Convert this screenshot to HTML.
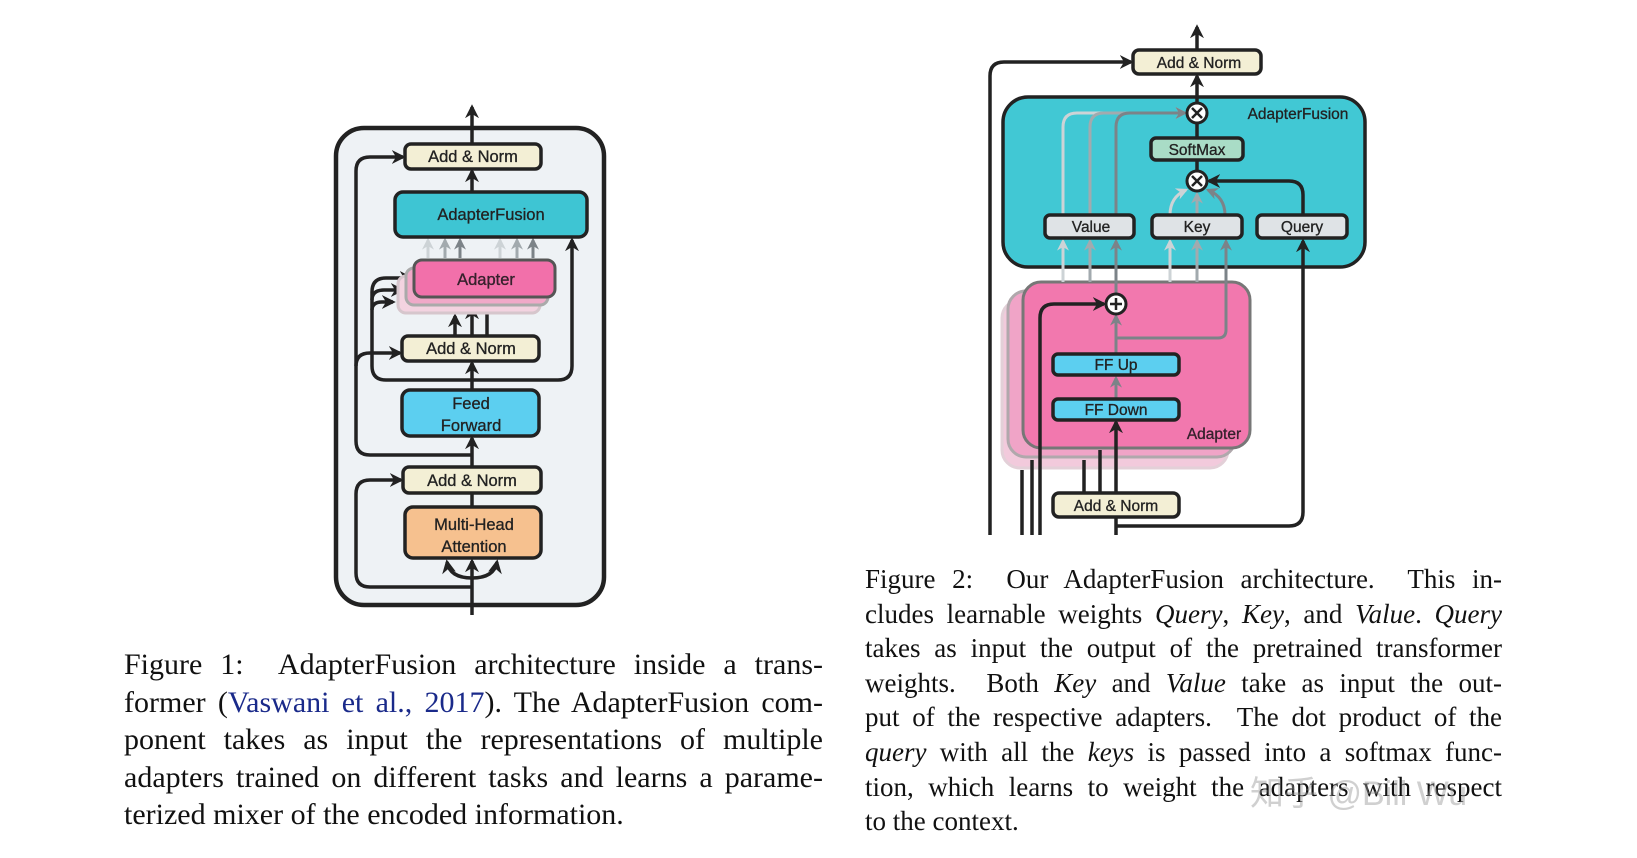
<!DOCTYPE html>
<html><head><meta charset="utf-8"><style>
html,body{margin:0;padding:0;background:#fff;}
body{width:1637px;height:858px;position:relative;overflow:hidden;}
.cap{position:absolute;font-family:"Liberation Serif",serif;color:#111;text-align:justify;text-align-last:justify;}
.cap div{white-space:nowrap;}
.f1{left:124px;top:646px;width:699px;font-size:30px;line-height:37.5px;}
.f2{left:865px;top:562px;width:637px;font-size:27px;line-height:34.6px;}
.cap .last{text-align-last:left;}
.lnk{color:#1a2a8a;}
svg text{font-family:"Liberation Sans",sans-serif;}
.wm{position:absolute;left:1250px;top:766px;font-family:"Liberation Sans","Noto Sans CJK SC",sans-serif;font-size:34px;color:rgba(150,150,150,0.45);}
</style></head><body>
<svg width="1637" height="858" style="position:absolute;left:0;top:0">
<defs>
<marker id="a" viewBox="0 0 10 10" refX="8" refY="5" markerWidth="4" markerHeight="4" orient="auto-start-reverse"><path d="M0,0 L10,5 L0,10 L3,5 z" fill="#222"/></marker>
<marker id="g1" viewBox="0 0 10 10" refX="8" refY="5" markerWidth="4" markerHeight="4" orient="auto"><path d="M0,0 L10,5 L0,10 L3,5 z" fill="#7c8388"/></marker>
<marker id="g2" viewBox="0 0 10 10" refX="8" refY="5" markerWidth="4" markerHeight="4" orient="auto"><path d="M0,0 L10,5 L0,10 L3,5 z" fill="#a2aaae"/></marker>
<marker id="g3" viewBox="0 0 10 10" refX="8" refY="5" markerWidth="4" markerHeight="4" orient="auto"><path d="M0,0 L10,5 L0,10 L3,5 z" fill="#cdd3d6"/></marker>
</defs>
<g fill="none" stroke="#222" stroke-width="3.5">
<rect x="336" y="128" width="268" height="477" rx="28" fill="#eef2f5" stroke-width="4.5"/>
<path d="M472 615 L472 561" marker-end="url(#a)"/>
<path d="M472 578 Q450 578 447 562" marker-end="url(#a)"/>
<path d="M472 578 Q494 578 497 562" marker-end="url(#a)"/>
<path d="M472 587 L370 587 Q356 587 356 573 L356 494 Q356 480 370 480 L401 480" marker-end="url(#a)"/>
<path d="M472 507 L472 493"/>
<path d="M472 466 L472 438" marker-end="url(#a)"/>
<path d="M472 455 L370 455 Q356 455 356 441 L356 171 Q356 157 370 157 L403 157" marker-end="url(#a)"/>
<path d="M356 366 Q356 353 370 353 L400 353" marker-end="url(#a)"/>
<path d="M472 390 L472 363" marker-end="url(#a)"/>
<path d="M472 380 L386 380 Q372 380 372 366 L372 292 Q372 278 386 278 L411 278" marker-end="url(#a)"/>
<path d="M372 300 Q372 290 384 290 L402 290" marker-end="url(#a)"/>
<path d="M372 310 Q372 302 382 302 L393 302" marker-end="url(#a)"/>
<path d="M472 380 L558 380 Q572 380 572 366 L572 240" marker-end="url(#a)"/>
<path d="M455 336 L455 316" marker-end="url(#a)"/>
<path d="M472 336 L472 308" marker-end="url(#a)"/>
<path d="M487 336 L487 300" marker-end="url(#a)"/>
<rect x="398" y="276" width="142" height="37" rx="8" fill="#f3d3e0" stroke="#d6c6cc" stroke-width="3"/>
<rect x="406" y="268" width="142" height="37" rx="8" fill="#f0a9c8" stroke="#aaa" stroke-width="3"/>
<rect x="414" y="260" width="141" height="37" rx="8" fill="#f270aa" stroke="#555" stroke-width="3"/>
<g stroke-width="3">
<path d="M428 258 L428 240" stroke="#cdd3d6" marker-end="url(#g3)"/>
<path d="M445 258 L445 240" stroke="#a2aaae" marker-end="url(#g2)"/>
<path d="M460 258 L460 240" stroke="#7c8388" marker-end="url(#g1)"/>
<path d="M500 258 L500 240" stroke="#cdd3d6" marker-end="url(#g3)"/>
<path d="M517 258 L517 240" stroke="#a2aaae" marker-end="url(#g2)"/>
<path d="M533 258 L533 240" stroke="#7c8388" marker-end="url(#g1)"/>
</g>
<path d="M472 192 L472 171" marker-end="url(#a)"/>
<path d="M472 144 L472 107" marker-end="url(#a)"/>
<rect x="405" y="144" width="136" height="25" rx="6" fill="#f3efd5"/>
<rect x="395" y="192" width="192" height="45" rx="8" fill="#3ec5d3"/>
<rect x="402" y="336" width="137" height="25" rx="6" fill="#f3efd5"/>
<rect x="402" y="390" width="137" height="46" rx="8" fill="#5ccff0"/>
<rect x="403" y="467" width="138" height="26" rx="6" fill="#f3efd5"/>
<rect x="405" y="507" width="136" height="51" rx="8" fill="#f6c18f"/>

<rect x="1003" y="97" width="362" height="170" rx="25" fill="#41c8d4"/>
<path d="M1197 50 L1197 27" marker-end="url(#a)"/>
<path d="M1197 103 L1197 76" marker-end="url(#a)"/>
<path d="M1197 123 L1197 138 M1197 160 L1197 171"/>
<path d="M990 535 L990 76 Q990 62 1004 62 L1131 62" marker-end="url(#a)"/>
<path d="M1303 215 L1303 195 Q1303 181 1289 181 L1209 181" marker-end="url(#a)"/>
<g stroke-width="3">
<path d="M1063 215 L1063 127 Q1063 113 1077 113 L1185 113" stroke="#cdd3d6" marker-end="url(#g3)"/>
<path d="M1090 215 L1090 127 Q1090 113 1104 113 L1185 113" stroke="#a2aaae" marker-end="url(#g2)"/>
<path d="M1116 215 L1116 127 Q1116 113 1130 113 L1185 113" stroke="#7c8388" marker-end="url(#g1)"/>
<path d="M1170 215 Q1170 197 1186 190" stroke="#cdd3d6" marker-end="url(#g3)"/>
<path d="M1197 215 L1197 194" stroke="#a2aaae" marker-end="url(#g2)"/>
<path d="M1225 215 Q1225 197 1208 190" stroke="#7c8388" marker-end="url(#g1)"/>
</g>
<rect x="1002" y="300" width="226" height="168" rx="18" fill="#f2cadc" stroke="#e3d0d8" stroke-width="3"/>
<rect x="1008" y="291" width="227" height="166" rx="18" fill="#f0a4c7" stroke="#b0a8ac" stroke-width="3"/>
<rect x="1023" y="282" width="227" height="166" rx="18" fill="#f278ae" stroke="#777" stroke-width="3"/>
<g stroke-width="3">
<path d="M1063 282 L1063 241" stroke="#cdd3d6" marker-end="url(#g3)"/>
<path d="M1090 282 L1090 241" stroke="#a2aaae" marker-end="url(#g2)"/>
<path d="M1116 294 L1116 241" stroke="#7c8388" marker-end="url(#g1)"/>
<path d="M1170 282 L1170 241" stroke="#cdd3d6" marker-end="url(#g3)"/>
<path d="M1197 282 L1197 241" stroke="#a2aaae" marker-end="url(#g2)"/>
<path d="M1116 338 L1218 338 Q1226 338 1226 330 L1226 241" stroke="#7c8388" marker-end="url(#g1)"/>
<path d="M1116 354 L1116 316" stroke="#7c8388" marker-end="url(#g1)"/>
<path d="M1116 399 L1116 378" stroke="#7c8388" marker-end="url(#g1)"/>
</g>
<path d="M1116 492 L1116 422" marker-end="url(#a)"/>
<path d="M1084 495 L1084 460 M1100 495 L1100 450"/>
<path d="M1022 535 L1022 470 M1032 535 L1032 460"/>
<path d="M1040 535 L1040 318 Q1040 304 1054 304 L1104 304" marker-end="url(#a)"/>
<path d="M1116 517 L1116 535"/>
<path d="M1116 526 L1289 526 Q1303 526 1303 512 L1303 241" marker-end="url(#a)"/>
<rect x="1133" y="50" width="128" height="24" rx="6" fill="#f3efd5"/>
<rect x="1151" y="138" width="92" height="22" rx="5" fill="#a9dcc6"/>
<rect x="1045" y="215" width="89" height="23" rx="5" fill="#dfe3e6"/>
<rect x="1152" y="215" width="90" height="23" rx="5" fill="#dfe3e6"/>
<rect x="1257" y="215" width="90" height="23" rx="5" fill="#dfe3e6"/>
<rect x="1053" y="354" width="126" height="21" rx="5" fill="#5ccff0"/>
<rect x="1053" y="399" width="126" height="21" rx="5" fill="#5ccff0"/>
<rect x="1053" y="493" width="126" height="24" rx="6" fill="#f3efd5"/>
<circle cx="1197" cy="113" r="10" fill="#fff" stroke-width="3"/>
<circle cx="1197" cy="181" r="10" fill="#fff" stroke-width="3"/>
<circle cx="1116" cy="304" r="10" fill="#fff" stroke-width="3"/>
<path d="M1192 108 L1202 118 M1202 108 L1192 118 M1192 176 L1202 186 M1202 176 L1192 186 M1110 304 L1122 304 M1116 298 L1116 310" stroke-width="2.5"/>
</g>
<g fill="#222" font-size="16.5" text-anchor="middle" stroke="#222" stroke-width="0.3">
<text x="473" y="162">Add &amp; Norm</text>
<text x="491" y="220">AdapterFusion</text>
<text x="486" y="285" fill="#3a1f2e">Adapter</text>
<text x="471" y="354">Add &amp; Norm</text>
<text x="471" y="409">Feed</text>
<text x="471" y="431">Forward</text>
<text x="472" y="486">Add &amp; Norm</text>
<text x="474" y="530">Multi-Head</text>
<text x="474" y="552">Attention</text>
<g font-size="15.5">
<text x="1199" y="68">Add &amp; Norm</text>
<text x="1298" y="119">AdapterFusion</text>
<text x="1197" y="155">SoftMax</text>
<text x="1091" y="232">Value</text>
<text x="1197" y="232">Key</text>
<text x="1302" y="232">Query</text>
<text x="1116" y="370">FF Up</text>
<text x="1116" y="415">FF Down</text>
<text x="1214" y="439" fill="#3a1f2e">Adapter</text>
<text x="1116" y="511">Add &amp; Norm</text>
</g>
</g>
</svg>
<div class="cap f1">
<div>Figure 1:&nbsp; AdapterFusion architecture inside a trans-</div>
<div>former (<span class="lnk">Vaswani et al., 2017</span>). The AdapterFusion com-</div>
<div>ponent takes as input the representations of multiple</div>
<div>adapters trained on different tasks and learns a parame-</div>
<div class="last">terized mixer of the encoded information.</div>
</div>
<div class="cap f2">
<div>Figure 2:&nbsp; Our AdapterFusion architecture.&nbsp; This in-</div>
<div>cludes learnable weights <i>Query</i>, <i>Key</i>, and <i>Value</i>. <i>Query</i></div>
<div>takes as input the output of the pretrained transformer</div>
<div>weights.&nbsp; Both <i>Key</i> and <i>Value</i> take as input the out-</div>
<div>put of the respective adapters.&nbsp; The dot product of the</div>
<div><i>query</i> with all the <i>keys</i> is passed into a softmax func-</div>
<div>tion, which learns to weight the adapters with respect</div>
<div class="last">to the context.</div>
</div>
<div class="wm">知乎 @Bill Wu</div>
</body></html>
